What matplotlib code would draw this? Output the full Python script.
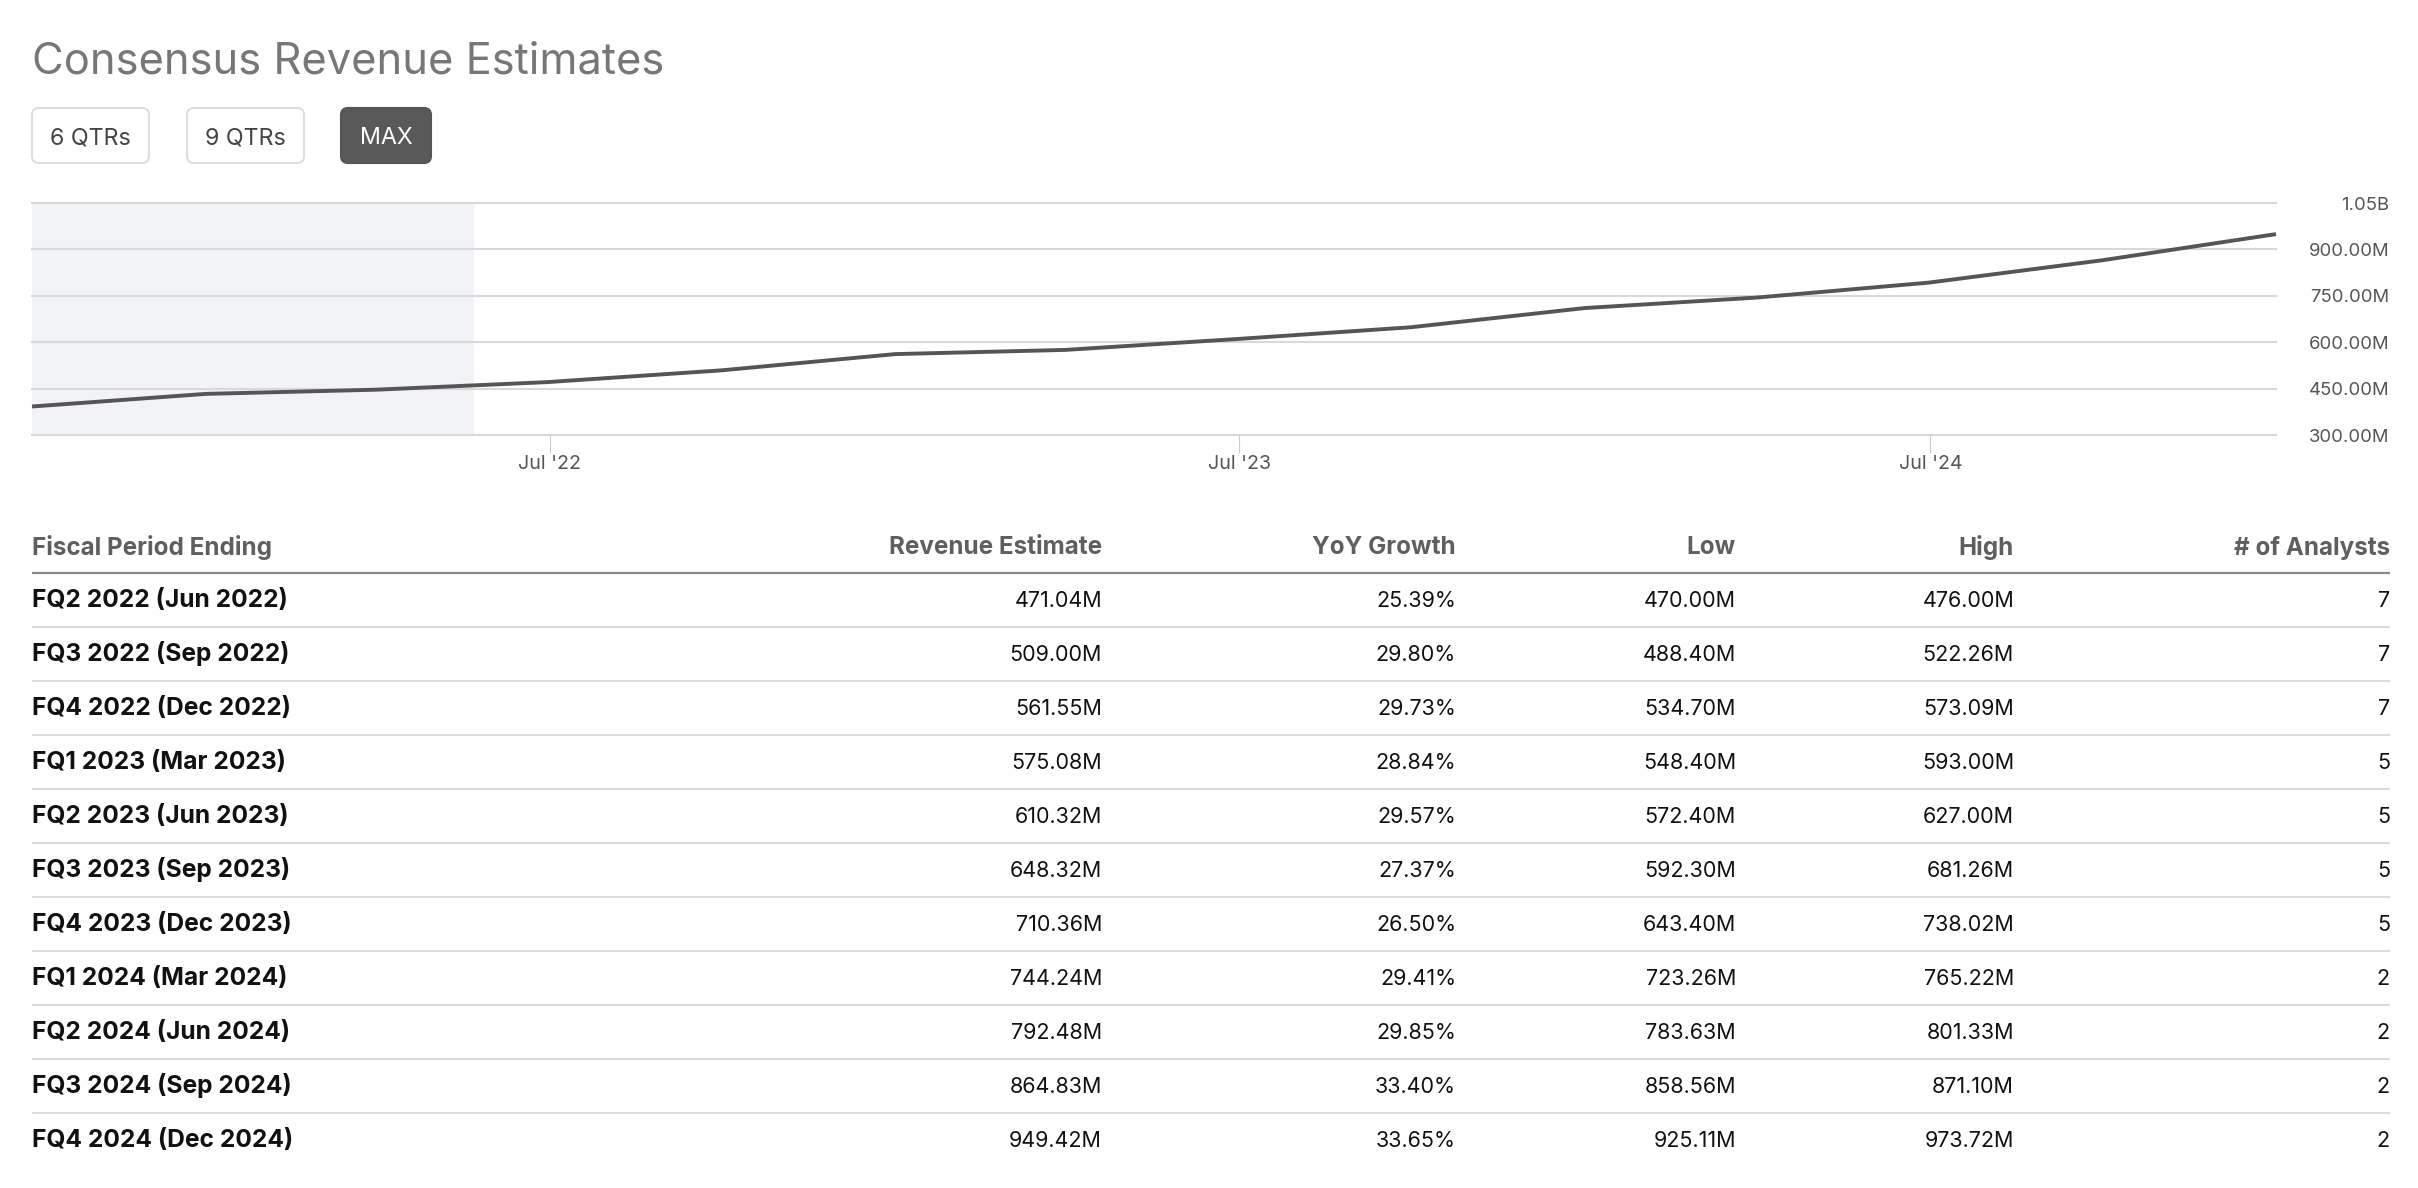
import numpy as np
import matplotlib
matplotlib.use("Agg")
import matplotlib.pyplot as plt
from matplotlib.patches import FancyBboxPatch

# ---------------- data ----------------
periods = ["FQ2 2022 (Jun 2022)", "FQ3 2022 (Sep 2022)", "FQ4 2022 (Dec 2022)",
           "FQ1 2023 (Mar 2023)", "FQ2 2023 (Jun 2023)", "FQ3 2023 (Sep 2023)",
           "FQ4 2023 (Dec 2023)", "FQ1 2024 (Mar 2024)", "FQ2 2024 (Jun 2024)",
           "FQ3 2024 (Sep 2024)", "FQ4 2024 (Dec 2024)"]
period_end_dates = ["2022-06-30", "2022-09-30", "2022-12-31", "2023-03-31",
                    "2023-06-30", "2023-09-30", "2023-12-31", "2024-03-31",
                    "2024-06-30", "2024-09-30", "2024-12-31"]
revenue_estimate = [471.04, 509.00, 561.55, 575.08, 610.32, 648.32,
                    710.36, 744.24, 792.48, 864.83, 949.42]          # $M
yoy_growth = [25.39, 29.80, 29.73, 28.84, 29.57, 27.37,
              26.50, 29.41, 29.85, 33.40, 33.65]                    # %
low_estimate = [470.00, 488.40, 534.70, 548.40, 572.40, 592.30,
                643.40, 723.26, 783.63, 858.56, 925.11]             # $M
high_estimate = [476.00, 522.26, 573.09, 593.00, 627.00, 681.26,
                 738.02, 765.22, 801.33, 871.10, 973.72]            # $M
num_analysts = [7, 7, 7, 5, 5, 5, 5, 2, 2, 2, 2]

# earlier quarters shown only in the chart
history_dates = ["2021-09-30", "2021-12-31", "2022-03-31"]
history_revenue = [392.1, 432.9, 446.4]                              # $M

shade_end_date = "2022-05-22"
y_ticks = [300, 450, 600, 750, 900, 1050]
y_tick_labels = ["300.00M", "450.00M", "600.00M", "750.00M", "900.00M", "1.05B"]
x_tick_dates = ["2022-07-01", "2023-07-01", "2024-07-01"]
x_tick_labels = ["Jul '22", "Jul '23", "Jul '24"]

title = "Consensus Revenue Estimates"
buttons = ["6 QTRs", "9 QTRs", "MAX"]
columns = ["Fiscal Period Ending", "Revenue Estimate", "YoY Growth",
           "Low", "High", "# of Analysts"]

# ---------------- layout (pixels) ----------------
W, H = 2418, 1188
FONT = "Inter"
fig = plt.figure(figsize=(W / 100, H / 100), dpi=100)
fig.patch.set_facecolor("white")
renderer = fig.canvas.get_renderer()


def fit_size(s, target_px, **kw):
    t = fig.text(0, 0, s, fontsize=20, family=FONT, **kw)
    w = t.get_window_extent(renderer=renderer).width
    t.remove()
    return 20.0 * target_px / w


fs_title = fit_size(title, 631)
fs_btn = fit_size("6 QTRs", 81)
fs_head = fit_size("Fiscal Period Ending", 240, weight="bold")
fs_label = fit_size("FQ2 2022 (Jun 2022)", 256, weight="bold")
fs_num = fit_size("471.04M", 88)
fs_ytick = fit_size("900.00M", 80)
fs_xtick = fit_size("Jul '22", 63)

# overlay axes in pixel coordinates
ov = fig.add_axes([0, 0, 1, 1])
ov.set_xlim(0, W)
ov.set_ylim(H, 0)
ov.axis("off")
ov.patch.set_visible(False)

# title
ov.text(32, 73, title, fontsize=fs_title, family=FONT, color="#777777",
        ha="left", va="baseline")

# buttons
btn_boxes = [(32, 149), (187, 304), (341, 431)]
btn_top, btn_bot = 108, 163
for i, (lbl, (x0, x1)) in enumerate(zip(buttons, btn_boxes)):
    active = (i == len(buttons) - 1)
    box = FancyBboxPatch((x0, btn_top), x1 - x0, btn_bot - btn_top,
                         boxstyle="round,pad=0,rounding_size=7",
                         facecolor="#595959" if active else "white",
                         edgecolor="#555555" if active else "#dddddd",
                         linewidth=1.5)
    ov.add_patch(box)
    ov.text((x0 + x1) / 2, 144, lbl, fontsize=fs_btn, family=FONT,
            color="white" if active else "#444444", ha="center", va="baseline")

# ---------------- chart ----------------
PL, PR, PT, PB = 32, 2276, 203, 435
ax = fig.add_axes([PL / W, 1 - PB / H, (PR - PL) / W, (PB - PT) / H])
ax.patch.set_alpha(0)

all_dates = np.array(history_dates + period_end_dates, dtype="datetime64[D]")
all_vals = np.array(history_revenue + revenue_estimate)

ax.set_xlim(all_dates[0], all_dates[-1])
ax.set_ylim(y_ticks[0], y_ticks[-1])

ax.axvspan(all_dates[0], np.datetime64(shade_end_date), color="#f2f3f7",
           lw=0, zorder=0)
for v in y_ticks:
    ax.axhline(v, color="#d9d9d9", lw=1.5, zorder=1, clip_on=False)

ax.plot(all_dates, all_vals, color="#555555", lw=2.8, zorder=3,
        solid_joinstyle="round", solid_capstyle="butt", clip_on=False)

for s in ax.spines.values():
    s.set_visible(False)

ax.yaxis.tick_right()
ax.set_yticks(y_ticks)
ax.set_yticklabels(y_tick_labels)
ax.tick_params(axis="y", length=0, pad=81.5, labelsize=fs_ytick,
               labelcolor="#555555")
for t in ax.get_yticklabels():
    t.set_horizontalalignment("right")
    t.set_family(FONT)

ax.set_xticks(np.array(x_tick_dates, dtype="datetime64[D]"))
ax.set_xticklabels(x_tick_labels)
ax.tick_params(axis="x", length=13, width=0.8, color="#cccccc", pad=1.5,
               labelsize=fs_xtick, labelcolor="#555555")
for t in ax.get_xticklabels():
    t.set_family(FONT)

# ---------------- table ----------------
col_right = [None, 1102, 1456, 1736, 2014, 2390]
TL, TR = 32, 2390
head_base = 554.5
row_base0 = 607.0
row_h = 54.0

ov.text(TL, head_base, columns[0], fontsize=fs_head, family=FONT,
        weight="bold", color="#5f5f5f", ha="left", va="baseline")
for c in range(1, len(columns)):
    ov.text(col_right[c], head_base, columns[c], fontsize=fs_head, family=FONT,
            weight="bold", color="#5f5f5f", ha="right", va="baseline")
ov.plot([TL, TR], [572.7, 572.7], color="#8a8a8a", lw=1.6,
        solid_capstyle="butt")

n = len(periods)
for i in range(n):
    yb = row_base0 + i * row_h
    cells = [f"{revenue_estimate[i]:.2f}M", f"{yoy_growth[i]:.2f}%",
             f"{low_estimate[i]:.2f}M", f"{high_estimate[i]:.2f}M",
             f"{num_analysts[i]}"]
    ov.text(TL, yb, periods[i], fontsize=fs_label, family=FONT, weight="bold",
            color="#111111", ha="left", va="baseline")
    for c, s in enumerate(cells, start=1):
        ov.text(col_right[c], yb, s, fontsize=fs_num, family=FONT,
                color="#111111", ha="right", va="baseline")
    if i < n - 1:
        ys = 626.7 + i * row_h
        ov.plot([TL, TR], [ys, ys], color="#dcdcdc", lw=1.5,
                solid_capstyle="butt")

fig.savefig("out.png", dpi=100, facecolor="white")
